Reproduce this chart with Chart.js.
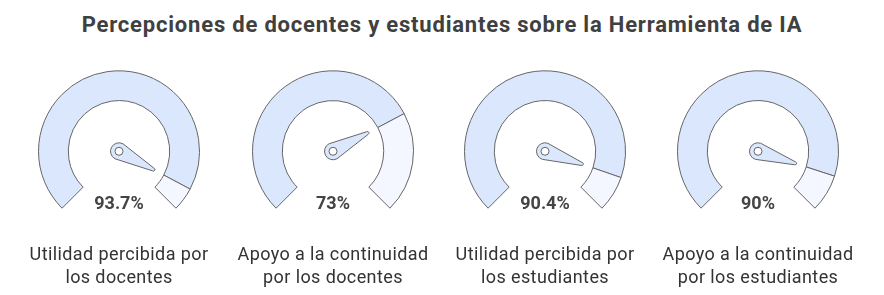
<!DOCTYPE html>
<html>
<head>
<meta charset="utf-8">
<script src="https://cdn.jsdelivr.net/npm/chart.js@4.4.1/dist/chart.umd.min.js"></script>
<style>
  html, body { margin: 0; padding: 0; background: #fff; }
  body { width: 884px; height: 295px; position: relative; overflow: hidden; font-family: Roboto, "Noto Sans", sans-serif; }
  #title { position: absolute; left: 0; top: 10px; width: 884px; text-align: center; font-size: 22px; letter-spacing: 0.8px; font-weight: bold; color: #404040; line-height: 30px; }
  .gauge { position: absolute; top: 70px; }
  .pct { position: absolute; top: 191px; width: 120px; text-align: center; font-size: 18px; font-weight: bold; color: #444; line-height: 24px; }
  .lbl { position: absolute; top: 242px; width: 230px; text-align: center; font-size: 18px; letter-spacing: 0.4px; color: #333; line-height: 23px; }
</style>
</head>
<body>
<div id="title">Percepciones de docentes y estudiantes sobre la Herramienta de IA</div>
<div id="wrap"></div>
<script>
const labels = [
    ['Utilidad percibida por', 'los docentes'],
    ['Apoyo a la continuidad', 'por los docentes'],
    ['Utilidad percibida por', 'los estudiantes'],
    ['Apoyo a la continuidad', 'por los estudiantes']
]
const values = [93.7, 73, 90.4, 90]
const valueText = ['93.7%', '73%', '90.4%', '90%']
const centers = [119, 333, 545, 758]

const fillColor = '#dbe7fd'
const restColor = '#f4f7ff'
const lineColor = '#666666'

// needle drawn from the value arc's geometry
const needle = {
    id: 'needle',
    afterDatasetsDraw(chart) {
        const arc = chart.getDatasetMeta(0).data[0]
        const ctx = chart.ctx
        const a = arc.endAngle
        const cx = arc.x, cy = arc.y
        const r = 8.5, len = 39
        const tx = cx + Math.cos(a) * len, ty = cy + Math.sin(a) * len
        ctx.save()
        ctx.beginPath()
        ctx.arc(cx, cy, r, a + Math.PI / 2, a + Math.PI * 1.5)
        ctx.lineTo(tx - Math.sin(a) * -1.5, ty + Math.cos(a) * -1.5)
        ctx.arc(tx, ty, 1.5, a - Math.PI / 2, a + Math.PI / 2)
        ctx.closePath()
        ctx.fillStyle = fillColor
        ctx.fill()
        ctx.lineWidth = 1
        ctx.strokeStyle = lineColor
        ctx.lineJoin = 'round'
        ctx.stroke()
        ctx.beginPath()
        ctx.arc(cx, cy, 4, 0, Math.PI * 2)
        ctx.fillStyle = '#fff'
        ctx.fill()
        ctx.stroke()
        ctx.restore()
    }
}

const wrap = document.getElementById('wrap')
values.forEach(function (v, i) {
    const c = document.createElement('canvas')
    c.width = 162
    c.height = 139
    c.className = 'gauge'
    c.style.left = (centers[i] - 81) + 'px'
    c.style.width = '162px'
    c.style.height = '139px'
    wrap.appendChild(c)

    const p = document.createElement('div')
    p.className = 'pct'
    p.style.left = (centers[i] - 60) + 'px'
    p.textContent = valueText[i]
    wrap.appendChild(p)

    const l = document.createElement('div')
    l.className = 'lbl'
    l.style.left = (centers[i] - 115) + 'px'
    l.innerHTML = labels[i].join('<br>')
    wrap.appendChild(l)

    new Chart(c.getContext('2d'), {
        type: 'doughnut',
        data: {
            labels: ['valor', 'resto'],
            datasets: [{
                data: [v, 100 - v],
                backgroundColor: [fillColor, restColor],
                borderColor: lineColor,
                borderWidth: 1
            }]
        },
        options: {
            responsive: false,
            maintainAspectRatio: false,
            devicePixelRatio: 1,
            animation: false,
            rotation: -135,
            circumference: 270,
            cutout: '63%',
            layout: {padding: 0},
            plugins: {legend: {display: false}, tooltip: {enabled: false}}
        },
        plugins: [needle]
    })
})
</script>
</body>
</html>
